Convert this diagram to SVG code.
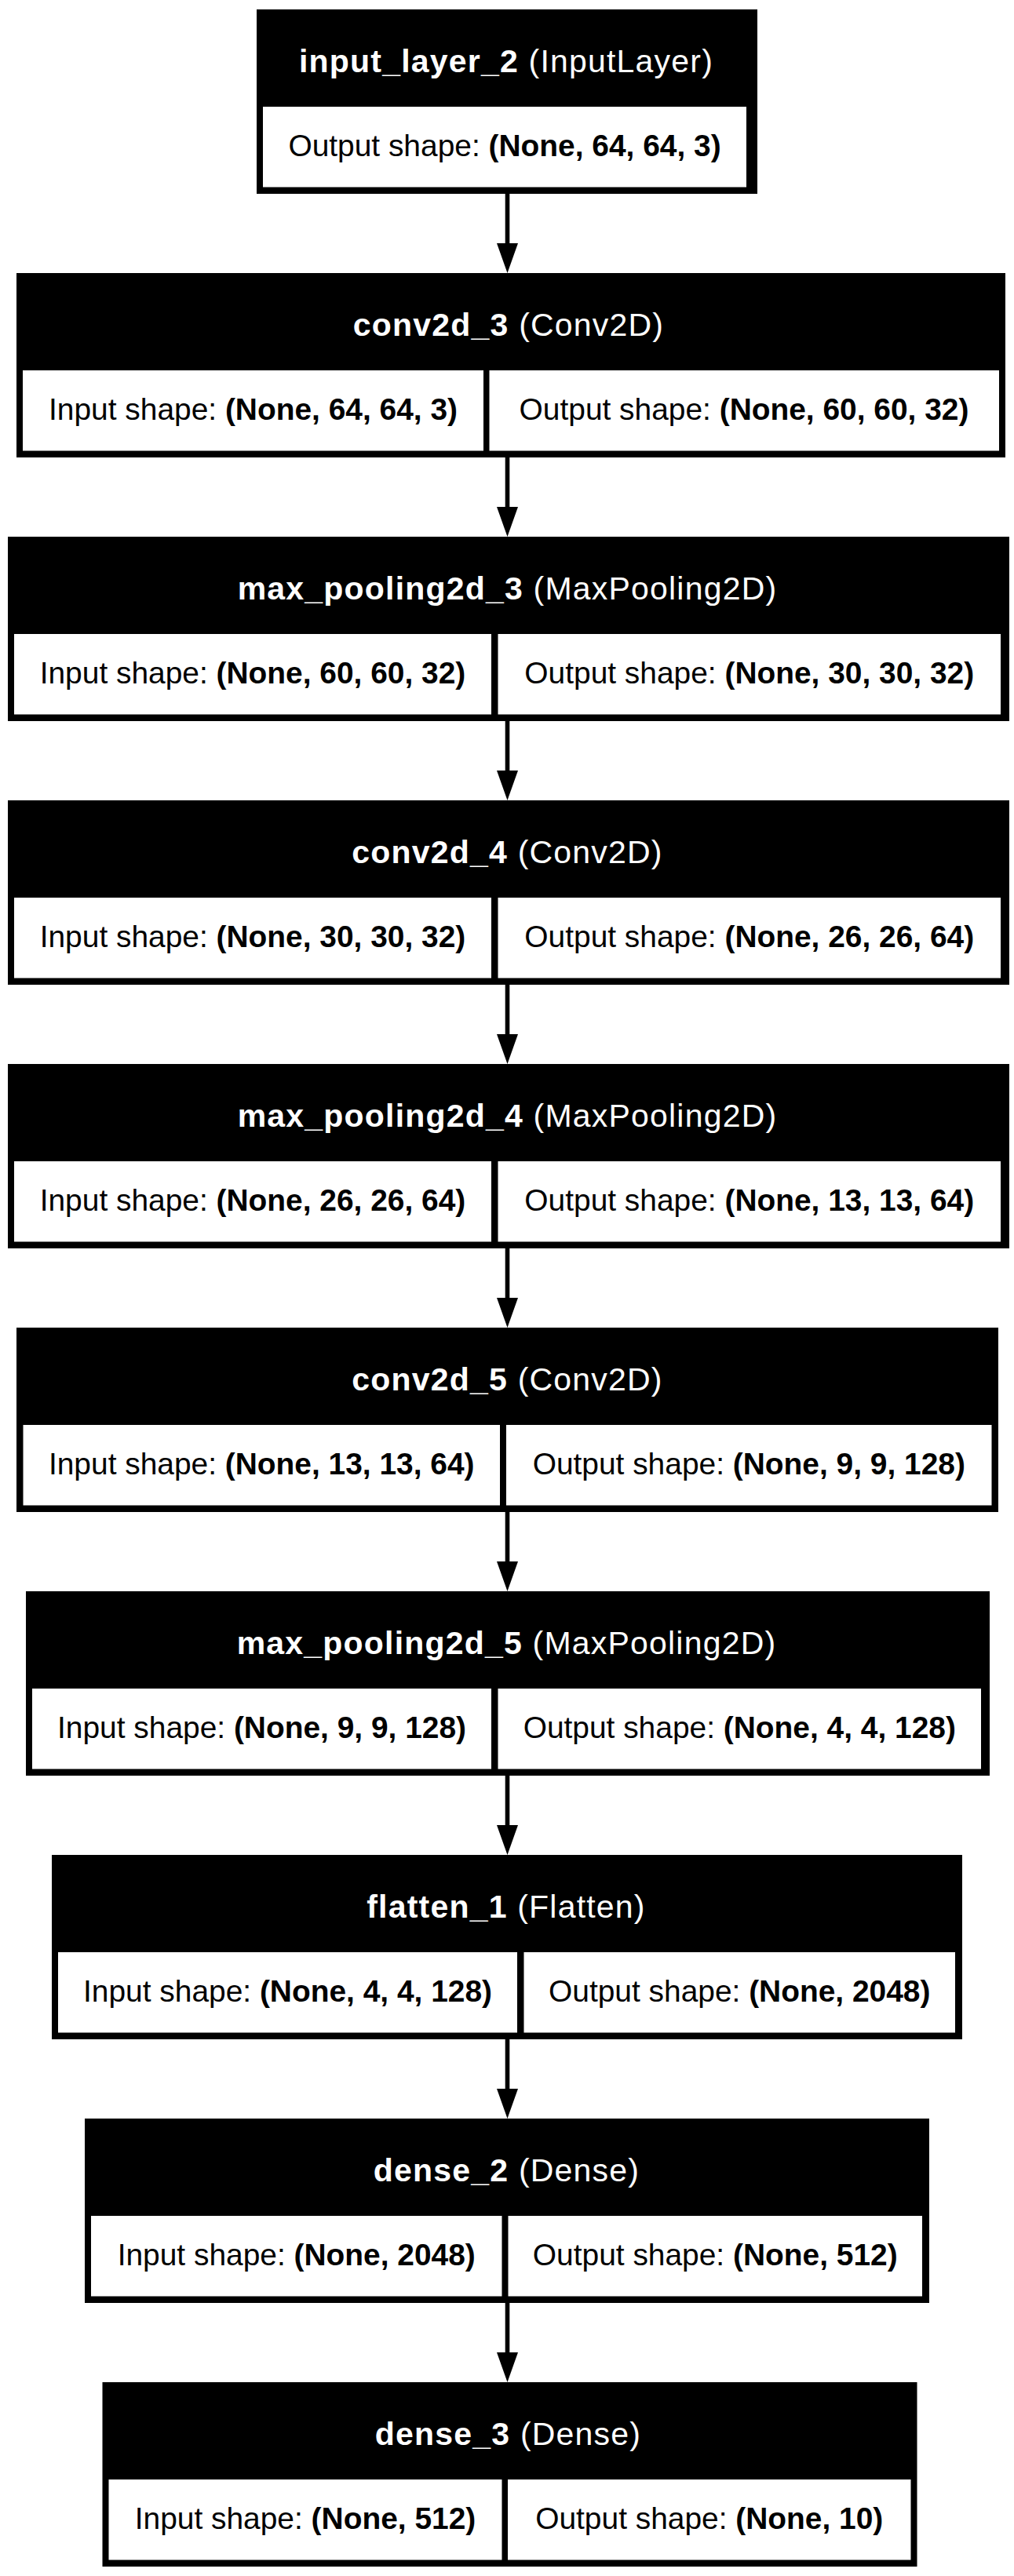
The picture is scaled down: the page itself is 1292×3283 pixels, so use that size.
<svg xmlns="http://www.w3.org/2000/svg" width="1292" height="3283" viewBox="0 0 1292 3283">
  <style>
    .frame { fill: #000000; }
    .cell { fill: #ffffff; }
    text { font-family: "Liberation Sans", Arial, Helvetica, sans-serif; text-anchor: middle; }
    .title { font-size: 41px; letter-spacing: 1.2px; fill: #ffffff; }
    .body { font-size: 38.9px; fill: #000000; }
    .b { font-weight: bold; }
    .edge { stroke: #000000; stroke-width: 5.6; fill: none; }
    .head { fill: #000000; }
  </style>
  <rect x="0" y="0" width="1292" height="3283" fill="#ffffff"/>

  <!-- connectors -->
  <g id="edges">
    <line class="edge" x1="646.5" y1="247" x2="646.5" y2="311"/>
    <polygon class="head" points="633,310 660,310 646.5,348"/>
    <line class="edge" x1="646.5" y1="583" x2="646.5" y2="647"/>
    <polygon class="head" points="633,646 660,646 646.5,684"/>
    <line class="edge" x1="646.5" y1="919" x2="646.5" y2="983"/>
    <polygon class="head" points="633,982 660,982 646.5,1020"/>
    <line class="edge" x1="646.5" y1="1255" x2="646.5" y2="1319"/>
    <polygon class="head" points="633,1318 660,1318 646.5,1356"/>
    <line class="edge" x1="646.5" y1="1591" x2="646.5" y2="1655"/>
    <polygon class="head" points="633,1654 660,1654 646.5,1692"/>
    <line class="edge" x1="646.5" y1="1927" x2="646.5" y2="1991"/>
    <polygon class="head" points="633,1990 660,1990 646.5,2028"/>
    <line class="edge" x1="646.5" y1="2263" x2="646.5" y2="2327"/>
    <polygon class="head" points="633,2326 660,2326 646.5,2364"/>
    <line class="edge" x1="646.5" y1="2599" x2="646.5" y2="2663"/>
    <polygon class="head" points="633,2662 660,2662 646.5,2700"/>
    <line class="edge" x1="646.5" y1="2935" x2="646.5" y2="2999"/>
    <polygon class="head" points="633,2998 660,2998 646.5,3036"/>
  </g>

  <!-- input_layer_2 -->
  <g id="input_layer_2">
    <rect class="frame" x="327" y="12" width="638" height="235"/>
    <rect class="cell" x="335" y="136" width="616" height="102.5"/>
    <text class="title" x="645" y="92"><tspan class="b">input_layer_2</tspan> (InputLayer)</text>
    <text class="body" x="643" y="199">Output shape: <tspan class="b">(None, 64, 64, 3)</tspan></text>
  </g>

  <!-- conv2d_3 -->
  <g id="conv2d_3">
    <rect class="frame" x="21" y="348" width="1260" height="235"/>
    <rect class="cell" x="29" y="472" width="587" height="102.5"/>
    <rect class="cell" x="623.5" y="472" width="649.5" height="102.5"/>
    <text class="title" x="648" y="428"><tspan class="b">conv2d_3</tspan> (Conv2D)</text>
    <text class="body" x="322.5" y="535">Input shape: <tspan class="b">(None, 64, 64, 3)</tspan></text>
    <text class="body" x="948" y="535">Output shape: <tspan class="b">(None, 60, 60, 32)</tspan></text>
  </g>

  <!-- max_pooling2d_3 -->
  <g id="max_pooling2d_3">
    <rect class="frame" x="10" y="684" width="1276" height="235"/>
    <rect class="cell" x="18" y="808" width="608" height="102.5"/>
    <rect class="cell" x="634.5" y="808" width="640.5" height="102.5"/>
    <text class="title" x="646.5" y="764"><tspan class="b">max_pooling2d_3</tspan> (MaxPooling2D)</text>
    <text class="body" x="322" y="871">Input shape: <tspan class="b">(None, 60, 60, 32)</tspan></text>
    <text class="body" x="954.75" y="871">Output shape: <tspan class="b">(None, 30, 30, 32)</tspan></text>
  </g>

  <!-- conv2d_4 -->
  <g id="conv2d_4">
    <rect class="frame" x="10" y="1020" width="1276" height="235"/>
    <rect class="cell" x="18" y="1144" width="608" height="102.5"/>
    <rect class="cell" x="634.5" y="1144" width="640.5" height="102.5"/>
    <text class="title" x="646.5" y="1100"><tspan class="b">conv2d_4</tspan> (Conv2D)</text>
    <text class="body" x="322" y="1207">Input shape: <tspan class="b">(None, 30, 30, 32)</tspan></text>
    <text class="body" x="954.75" y="1207">Output shape: <tspan class="b">(None, 26, 26, 64)</tspan></text>
  </g>

  <!-- max_pooling2d_4 -->
  <g id="max_pooling2d_4">
    <rect class="frame" x="10" y="1356" width="1276" height="235"/>
    <rect class="cell" x="18" y="1480" width="608" height="102.5"/>
    <rect class="cell" x="634.5" y="1480" width="640.5" height="102.5"/>
    <text class="title" x="646.5" y="1436"><tspan class="b">max_pooling2d_4</tspan> (MaxPooling2D)</text>
    <text class="body" x="322" y="1543">Input shape: <tspan class="b">(None, 26, 26, 64)</tspan></text>
    <text class="body" x="954.75" y="1543">Output shape: <tspan class="b">(None, 13, 13, 64)</tspan></text>
  </g>

  <!-- conv2d_5 -->
  <g id="conv2d_5">
    <rect class="frame" x="21" y="1692" width="1251" height="235"/>
    <rect class="cell" x="29.5" y="1816" width="607.5" height="102.5"/>
    <rect class="cell" x="645" y="1816" width="618.5" height="102.5"/>
    <text class="title" x="646.5" y="1772"><tspan class="b">conv2d_5</tspan> (Conv2D)</text>
    <text class="body" x="333.25" y="1879">Input shape: <tspan class="b">(None, 13, 13, 64)</tspan></text>
    <text class="body" x="954.25" y="1879">Output shape: <tspan class="b">(None, 9, 9, 128)</tspan></text>
  </g>

  <!-- max_pooling2d_5 -->
  <g id="max_pooling2d_5">
    <rect class="frame" x="33" y="2028" width="1228" height="235"/>
    <rect class="cell" x="41" y="2152" width="585" height="102.5"/>
    <rect class="cell" x="634.5" y="2152" width="615.5" height="102.5"/>
    <text class="title" x="645.5" y="2108"><tspan class="b">max_pooling2d_5</tspan> (MaxPooling2D)</text>
    <text class="body" x="333.5" y="2215">Input shape: <tspan class="b">(None, 9, 9, 128)</tspan></text>
    <text class="body" x="942.25" y="2215">Output shape: <tspan class="b">(None, 4, 4, 128)</tspan></text>
  </g>

  <!-- flatten_1 -->
  <g id="flatten_1">
    <rect class="frame" x="66" y="2364" width="1160" height="235"/>
    <rect class="cell" x="74" y="2488" width="585" height="102.5"/>
    <rect class="cell" x="667.5" y="2488" width="549.5" height="102.5"/>
    <text class="title" x="645" y="2444"><tspan class="b">flatten_1</tspan> (Flatten)</text>
    <text class="body" x="366.5" y="2551">Input shape: <tspan class="b">(None, 4, 4, 128)</tspan></text>
    <text class="body" x="942.25" y="2551">Output shape: <tspan class="b">(None, 2048)</tspan></text>
  </g>

  <!-- dense_2 -->
  <g id="dense_2">
    <rect class="frame" x="108" y="2700" width="1076" height="235"/>
    <rect class="cell" x="116" y="2824" width="523.5" height="102.5"/>
    <rect class="cell" x="647.5" y="2824" width="527.5" height="102.5"/>
    <text class="title" x="645.5" y="2780"><tspan class="b">dense_2</tspan> (Dense)</text>
    <text class="body" x="377.75" y="2887">Input shape: <tspan class="b">(None, 2048)</tspan></text>
    <text class="body" x="911.25" y="2887">Output shape: <tspan class="b">(None, 512)</tspan></text>
  </g>

  <!-- dense_3 -->
  <g id="dense_3">
    <rect class="frame" x="130.5" y="3036" width="1038" height="235"/>
    <rect class="cell" x="138.5" y="3160" width="501" height="102.5"/>
    <rect class="cell" x="647" y="3160" width="513.5" height="102.5"/>
    <text class="title" x="647.5" y="3116"><tspan class="b">dense_3</tspan> (Dense)</text>
    <text class="body" x="389" y="3223">Input shape: <tspan class="b">(None, 512)</tspan></text>
    <text class="body" x="903.75" y="3223">Output shape: <tspan class="b">(None, 10)</tspan></text>
  </g>
</svg>
